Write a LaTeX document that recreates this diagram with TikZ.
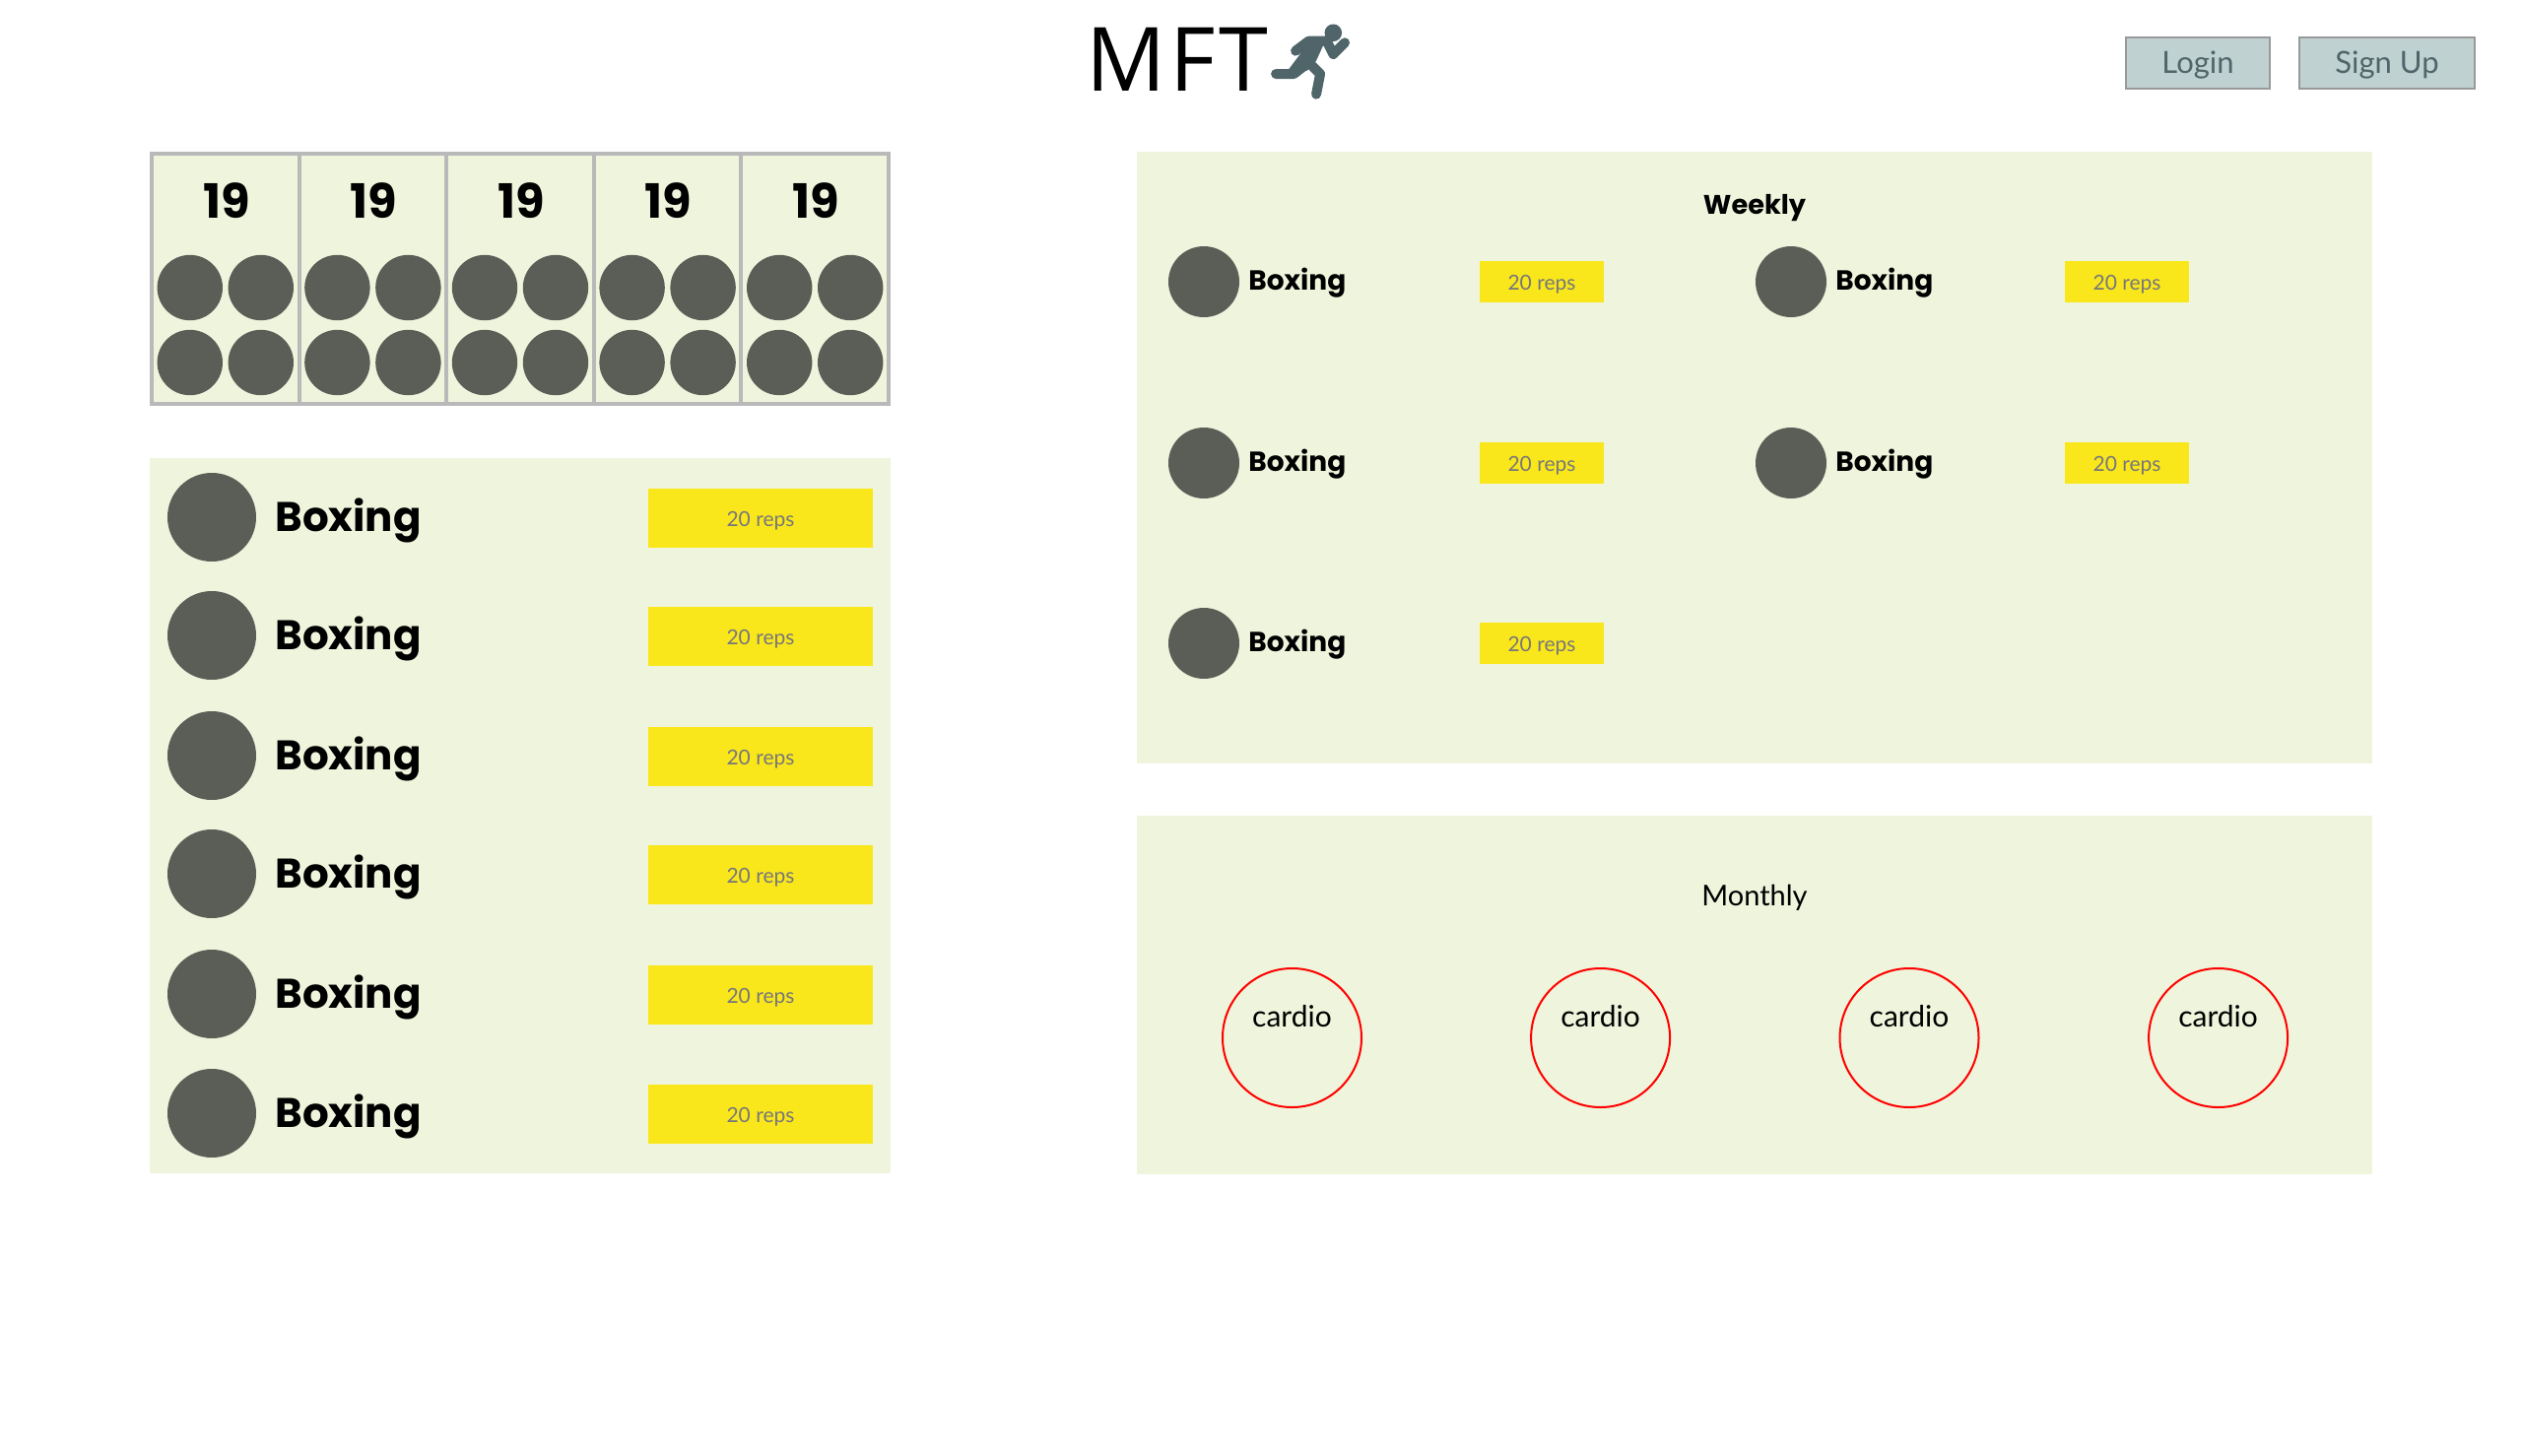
\documentclass[tikz,border=0pt]{standalone}
\usepackage{fontspec}
\setmainfont{Lato}
\newfontfamily\headfont{Poppins}[BoldFont={Poppins Bold}]
\newfontfamily\logofont{Open Sans}[LetterSpace=4]
\definecolor{panelgreen}{HTML}{EFF5DC}
\definecolor{dotgray}{HTML}{5B5D57}
\definecolor{barbyellow}{HTML}{F9E71B}
\definecolor{repgray}{HTML}{77777A}
\definecolor{framegray}{HTML}{B9B9B9}
\definecolor{btnfill}{HTML}{BFD1D1}
\definecolor{btntext}{HTML}{50656A}
\tikzset{
  x=0.5pt, y=-0.5pt,
  panel/.style={fill=panelgreen, inner sep=0pt},
  daycell/.style={panel, draw=framegray, line width=2pt, minimum width=74.8pt, minimum height=127pt},
  dayno/.style={font=\headfont\bfseries\fontsize{24}{24}\selectfont, anchor=base, inner sep=0pt},
  dot/.style={circle, fill=dotgray, inner sep=0pt},
  smalldot/.style={dot, minimum size=33.2pt},
  listdot/.style={dot, minimum size=45pt},
  weekdot/.style={dot, minimum size=36pt},
  listname/.style={font=\headfont\bfseries\fontsize{21}{21}\selectfont, anchor=base west, inner sep=0pt},
  weekname/.style={font=\headfont\bfseries\fontsize{14}{14}\selectfont, anchor=base west, inner sep=0pt},
  repbox/.style={fill=barbyellow, text=repgray, inner sep=0pt, text height=8.5pt, text depth=0pt, font=\fontsize{10.5}{10.5}\selectfont},
  listrep/.style={repbox, minimum width=114pt, minimum height=30pt},
  weekrep/.style={repbox, minimum width=63pt, minimum height=21pt},
  cardioring/.style={circle, draw=red, line width=1pt, minimum size=70.5pt, inner sep=0pt},
  plain/.style={font=\fontsize{15}{15}\selectfont, anchor=base, inner sep=0pt},
  authbtn/.style={fill=btnfill, draw=black!40, line width=1pt, text=btntext, inner sep=0pt, minimum height=26pt, text height=10.5pt, text depth=0pt, font=\fontsize{15.5}{15.5}\selectfont},
  runner/.style={draw=btntext, line width=5pt, line cap=round, line join=round},
}
\begin{document}
\begin{tikzpicture}
\useasboundingbox (0,0) rectangle (2560,1478);
% header
\node[font=\logofont\fontsize{45}{45}\selectfont, anchor=base, inner sep=0pt] (logo) at (1195,92) {MFT};
\fill[btntext] (1353.3,33.3) circle (4.4pt);
\begin{scope}[shift={(1060,0)}, x=0.1667pt, y=-0.1667pt]
\draw[runner] (765,155) -- (805,125) -- (860,125) -- (880,165) -- (915,130);
\draw[runner] (705,225) -- (760,225) -- (805,190) -- (840,225) -- (828,287);
\fill[btntext] (805,130) -- (855,125) -- (828,185) -- (800,215) -- (755,225) -- (745,210) -- cycle;
\end{scope}
\node[authbtn, minimum width=73pt] (login) at (2231,64) {Login};
\node[authbtn, minimum width=89pt] (signup) at (2423,64) {Sign Up};
% calendar
\foreach \x [count=\i] in {228.8,378.4,528,677.6,827.2} {
  \node[daycell] (day\i) at (\x,283) {};
  \node[dayno] (num\i) at (\x+1,221) {19};
  \node[smalldot] (dota\i) at (\x-36,292) {};
  \node[smalldot] (dotb\i) at (\x+36,292) {};
  \node[smalldot] (dotc\i) at (\x-36,368) {};
  \node[smalldot] (dotd\i) at (\x+36,368) {};
}
% exercise list
\node[panel, minimum width=376pt, minimum height=363pt] (list) at (528,827.5) {};
\foreach \y [count=\i] in {525,645,767,887,1009,1130} {
  \node[listdot] (ldot\i) at (215,\y) {};
  \node[listname] (lname\i) at (279,\y+14) {Boxing};
  \node[listrep] (lrep\i) at (772,\y+1) {20 reps};
}
% weekly
\node[panel, minimum width=627pt, minimum height=310.5pt] (week) at (1781,464.5) {};
\node[weekname, anchor=base, font=\headfont\bfseries\fontsize{13.6}{13.6}\selectfont] (weektitle) at (1781,217) {Weekly};
\foreach \x/\r/\y [count=\i] in {1222/1565/286,1818/2159/286,1222/1565/470,1818/2159/470,1222/1565/653} {
  \node[weekdot] (wdot\i) at (\x,\y) {};
  \node[weekname] (wname\i) at (\x+45,\y+8) {Boxing};
  \node[weekrep] (wrep\i) at (\r,\y) {20 reps};
}
% monthly
\node[panel, minimum width=627pt, minimum height=182pt] (month) at (1781,1010) {};
\node[plain, font=\fontsize{14.5}{14.5}\selectfont] (monthtitle) at (1781,919) {Monthly};
\foreach \x [count=\i] in {1311.5,1624.6,1938,2251.6} {
  \node[cardioring] (ring\i) at (\x,1053.5) {};
  \node[plain] (cardio\i) at (\x,1042) {cardio};
}
\end{tikzpicture}
\end{document}
